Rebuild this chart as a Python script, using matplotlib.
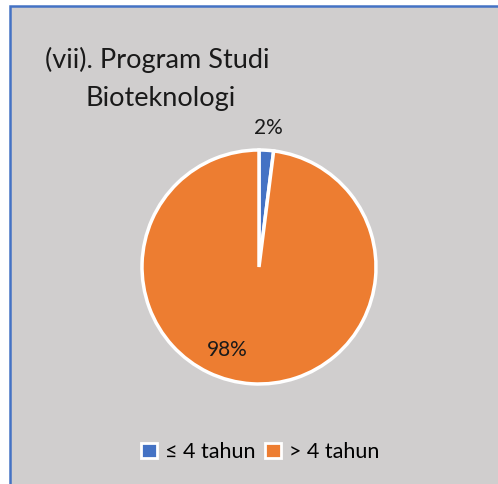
import matplotlib
matplotlib.use("Agg")
import matplotlib.pyplot as plt
from matplotlib.patches import Rectangle, Patch

categories = ["≤ 4 tahun", "> 4 tahun"]
values = [2, 98]
colors = ["#4472C4", "#ED7D31"]
title_lines = ["(vii). Program Studi", "Bioteknologi"]

plt.rcParams['font.family'] = ['Lato', 'DejaVu Sans']

W, H = 498, 484
fig = plt.figure(figsize=(W / 100, H / 100), dpi=100)
fig.patch.set_facecolor("white")

# chart area background with border (on a full-figure background axes)
bgax = fig.add_axes([0, 0, 1, 1], zorder=-1)
bgax.set_xlim(0, W)
bgax.set_ylim(H, 0)
bgax.axis("off")
bgax.add_patch(Rectangle((10, 6), W + 20, H + 20, facecolor="#D0CECE",
                         edgecolor="#4472C4", linewidth=1.8))

# title
fig.text(45 / W, 1 - 68 / H, title_lines[0], fontsize=19.5, color="#1a1a1a",
         va="baseline", ha="left")
fig.text(85 / W, 1 - 106 / H, title_lines[1], fontsize=19.5, color="#1a1a1a",
         va="baseline", ha="left")

# pie
cx, cy, r = 259, 267, 117
ax = fig.add_axes([(cx - r) / W, 1 - (cy + r) / H, 2 * r / W, 2 * r / H], zorder=1)
ax.set_facecolor("none")
wedges, texts, autotexts = ax.pie(values, colors=colors, startangle=90, counterclock=False,
                                  wedgeprops=dict(edgecolor="white", linewidth=2.5),
                                  autopct=lambda p: f"{p:.0f}%",
                                  textprops=dict(fontsize=15, color="#1a1a1a"))
ax.set_xlim(-1, 1)
ax.set_ylim(-1, 1)
ax.set_aspect("equal")
autotexts[0].set_position((0.08, 1.19))
autotexts[1].set_position((-0.27, -0.71))

# legend
handles = [Patch(facecolor=c, edgecolor="white", linewidth=2) for c in colors]
fig.legend(handles, categories, loc="center", bbox_to_anchor=(260 / W, 1 - 452 / H),
           ncol=2, frameon=False, fontsize=15.5, handlelength=0.75, handleheight=0.75,
           handletextpad=0.35, columnspacing=0.45)

fig.savefig("out.png", dpi=100)
